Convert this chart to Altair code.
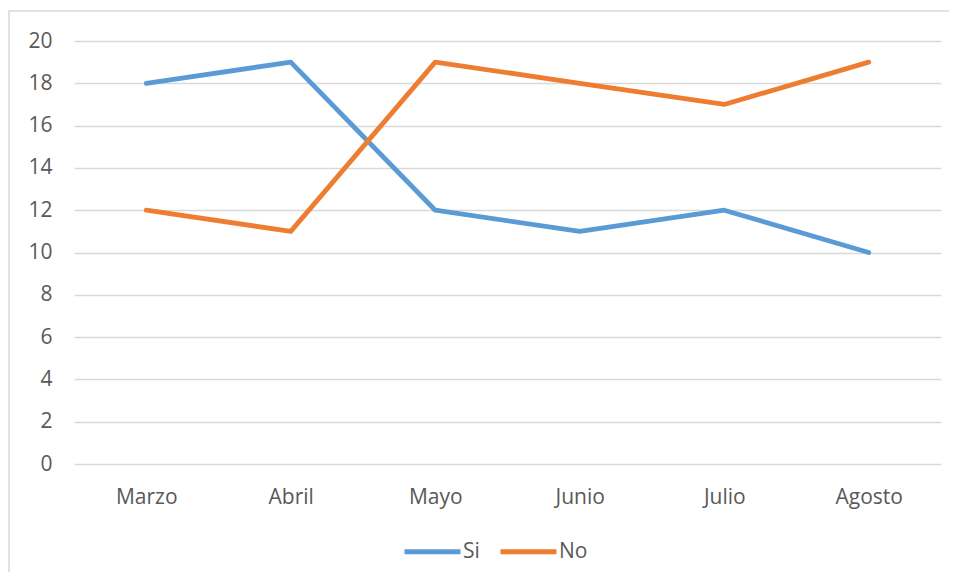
import altair as alt
import pandas as pd

months = ["Marzo", "Abril", "Mayo", "Junio", "Julio", "Agosto"]
si_values = [18, 19, 12, 11, 12, 10]
no_values = [12, 11, 19, 18, 17, 19]
series = ["Si", "No"]
colors = ["#5B9BD5", "#ED7D31"]
y_ticks = list(range(0, 21, 2))

rows = []
for m, v in zip(months, si_values):
    rows.append({"mes": m, "serie": "Si", "valor": v})
for m, v in zip(months, no_values):
    rows.append({"mes": m, "serie": "No", "valor": v})
df = pd.DataFrame(rows)

FONT = "Open Sans"
TXT = "#595959"
FS = 21

frame = alt.Chart(pd.DataFrame({"a": [0]})).mark_rect(
    fill="white", fillOpacity=0, stroke="#d9d9d9", strokeWidth=1.5
).encode(
    x=alt.value(-65), x2=alt.value(900), y=alt.value(-30), y2=alt.value(600)
)

lines = alt.Chart(df).mark_line(strokeWidth=4.8, strokeCap="round", strokeJoin="round").encode(
    x=alt.X("mes:N", sort=months, scale=alt.Scale(paddingInner=0, paddingOuter=0.5),
            axis=alt.Axis(title=None, labelAngle=0, ticks=False, domain=False, grid=False,
                          labelFont=FONT, labelFontSize=FS, labelColor=TXT, labelPadding=22)),
    y=alt.Y("valor:Q", scale=alt.Scale(domain=[0, 20], nice=False),
            axis=alt.Axis(title=None, values=y_ticks, ticks=False, domain=False, grid=True,
                          gridColor="#d9d9d9", gridWidth=1.3,
                          labelFont=FONT, labelFontSize=FS, labelColor=TXT, labelPadding=22)),
    color=alt.Color("serie:N", sort=series, scale=alt.Scale(domain=series, range=colors),
                    legend=alt.Legend(title=None, orient="none", legendX=328, legendY=480,
                                      direction="horizontal", symbolType="stroke",
                                      symbolSize=3136, symbolStrokeWidth=4.8,
                                      labelFont=FONT, labelFontSize=FS, labelColor=TXT,
                                      labelOffset=0, columnPadding=10)),
)

chart = alt.layer(frame, lines).properties(
    width=867, height=423,
    autosize=alt.AutoSizeParams(type="none"),
    padding={"left": 66, "top": 33, "right": 8, "bottom": 108},
).configure_view(stroke=None)

chart.save("out.html", embed_options={"renderer": "svg", "actions": False})
